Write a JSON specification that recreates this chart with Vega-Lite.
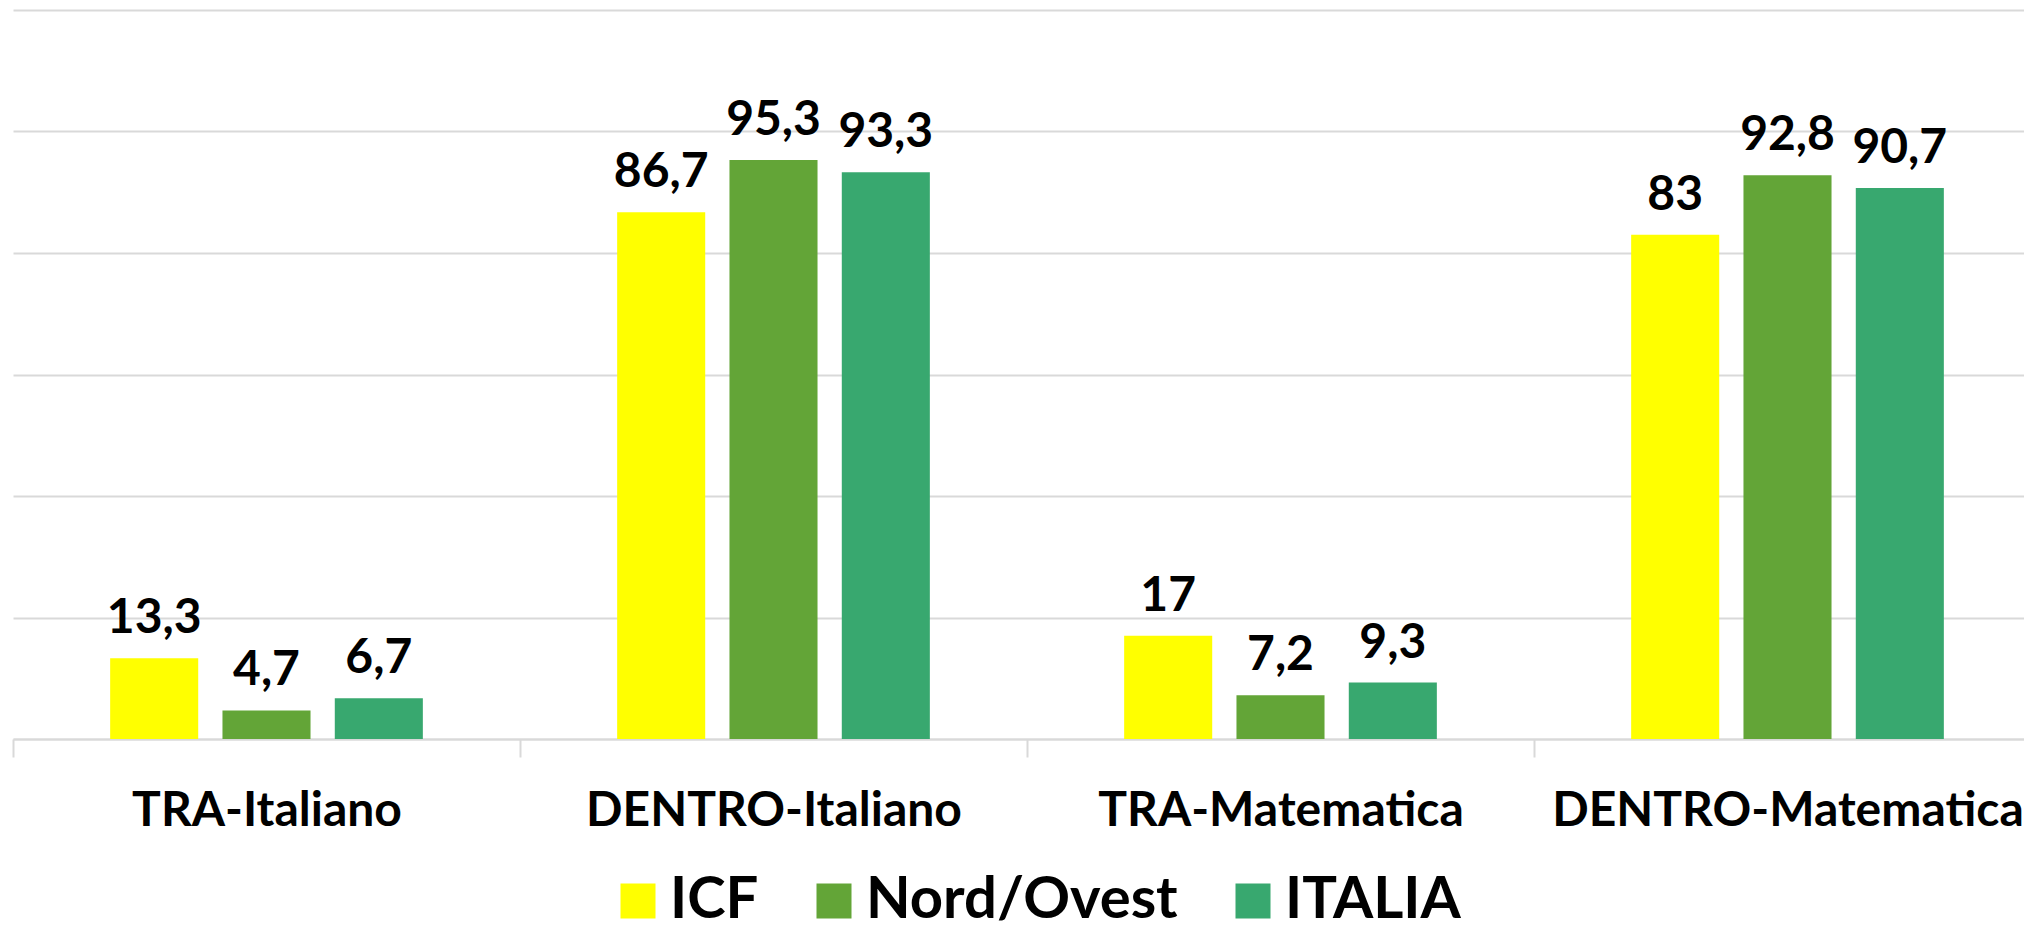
{
  "$schema": "https://vega.github.io/schema/vega-lite/v6.json",
  "width": 2011,
  "height": 729,
  "autosize": {"type": "none"},
  "padding": {"left": 13, "top": 10, "right": 0, "bottom": 189},
  "background": "white",
  "config": {
    "view": {"stroke": null},
    "font": "Lato",
    "locale": {"number": {"decimal": ",", "thousands": ".", "grouping": [3], "currency": ["€", ""]}}
  },
  "data": {
    "values": [
      {"categoria": "TRA-Italiano", "serie": "ICF", "valore": 13.3},
      {"categoria": "TRA-Italiano", "serie": "Nord/Ovest", "valore": 4.7},
      {"categoria": "TRA-Italiano", "serie": "ITALIA", "valore": 6.7},
      {"categoria": "DENTRO-Italiano", "serie": "ICF", "valore": 86.7},
      {"categoria": "DENTRO-Italiano", "serie": "Nord/Ovest", "valore": 95.3},
      {"categoria": "DENTRO-Italiano", "serie": "ITALIA", "valore": 93.3},
      {"categoria": "TRA-Matematica", "serie": "ICF", "valore": 17},
      {"categoria": "TRA-Matematica", "serie": "Nord/Ovest", "valore": 7.2},
      {"categoria": "TRA-Matematica", "serie": "ITALIA", "valore": 9.3},
      {"categoria": "DENTRO-Matematica", "serie": "ICF", "valore": 83},
      {"categoria": "DENTRO-Matematica", "serie": "Nord/Ovest", "valore": 92.8},
      {"categoria": "DENTRO-Matematica", "serie": "ITALIA", "valore": 90.7}
    ]
  },
  "encoding": {
    "x": {
      "field": "categoria",
      "type": "nominal",
      "sort": ["TRA-Italiano", "DENTRO-Italiano", "TRA-Matematica", "DENTRO-Matematica"],
      "scale": {"range": [0, 2028], "paddingInner": 0, "paddingOuter": 0},
      "axis": {
        "title": null,
        "labelAngle": 0,
        "labelFont": "Lato",
        "labelFontSize": 48,
        "labelFontWeight": "bold",
        "labelColor": "#000000",
        "labelLimit": 2000,
        "labelOverlap": false,
        "labelBound": false,
        "labelPadding": 30,
        "tickBand": "extent",
        "tickSize": 18,
        "tickColor": "#d9d9d9",
        "tickWidth": 2,
        "domainColor": "#d9d9d9",
        "domainWidth": 2
      }
    },
    "xOffset": {
      "field": "serie",
      "type": "nominal",
      "sort": ["ICF", "Nord/Ovest", "ITALIA"],
      "scale": {"paddingInner": 0.216, "paddingOuter": 0.865}
    },
    "y": {
      "field": "valore",
      "type": "quantitative",
      "scale": {"domain": [0, 120], "nice": false},
      "axis": {
        "title": null,
        "labels": false,
        "ticks": false,
        "domain": false,
        "grid": true,
        "gridColor": "#d9d9d9",
        "gridWidth": 2,
        "values": [0, 20, 40, 60, 80, 100, 120]
      }
    }
  },
  "layer": [
    {
      "mark": {"type": "bar"},
      "encoding": {
        "color": {
          "field": "serie",
          "type": "nominal",
          "sort": ["ICF", "Nord/Ovest", "ITALIA"],
          "scale": {"domain": ["ICF", "Nord/Ovest", "ITALIA"], "range": ["#FFFF00", "#63A537", "#38A86F"]},
          "legend": {
            "title": null,
            "orient": "none",
            "direction": "horizontal",
            "legendX": 596,
            "legendY": 862,
            "padding": 0,
            "symbolType": "square",
            "symbolSize": 1225,
            "symbolStrokeWidth": 0,
            "symbolOpacity": 1,
            "labelFont": "Lato",
            "labelFontSize": 58,
            "labelFontWeight": "bold",
            "labelColor": "#000000",
            "labelOffset": 3,
            "labelLimit": 1000,
            "columnPadding": 46
          }
        }
      }
    },
    {
      "mark": {"type": "text", "baseline": "alphabetic", "dy": -25, "fontSize": 48, "fontWeight": "bold", "font": "Lato", "color": "#000000"},
      "encoding": {
        "text": {"field": "valore", "type": "quantitative", "format": ".1~f"}
      }
    }
  ]
}
